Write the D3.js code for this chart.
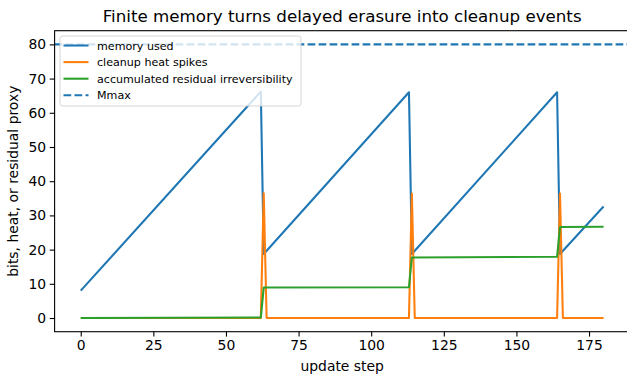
<!DOCTYPE html>
<html>
<head>
<meta charset="utf-8">
<script src="https://cdn.jsdelivr.net/npm/d3@7"></script>
<style>
  html, body { margin: 0; padding: 0; background: #fff; }
  svg { display: block; font-family: "DejaVu Sans", sans-serif; }
</style>
</head>
<body>
<svg id="chart" width="627" height="376"></svg>
<script>
// Memory used: sawtooth vertices (step, bits)
const memorySteps = [0, 62, 63, 113, 114, 164, 165, 180];
const memoryBits  = [8.0, 66.2, 18.7, 66.0, 18.7, 66.0, 18.7, 32.6];

// Cleanup heat spikes (step, heat)
const heatSteps = [0, 62, 63, 64, 113, 114, 115, 164, 165, 166, 180];
const heatValues = [0, 0, 36.5, 0, 0, 36.4, 0, 0, 36.4, 0, 0];

// Accumulated residual irreversibility (step, residual)
const residualSteps = [0, 62, 63, 113, 114, 164, 165, 180];
const residualValues = [0, 0.15, 8.9, 9.0, 17.7, 17.9, 26.6, 26.7];

// Memory capacity
const Mmax = 80;

const xTicks = [0, 25, 50, 75, 100, 125, 150, 175];
const yTicks = [0, 10, 20, 30, 40, 50, 60, 70, 80];

const legendLabels = ["memory used", "cleanup heat spikes", "accumulated residual irreversibility", "Mmax"];

const C = { blue: "#1f77b4", orange: "#ff7f0e", green: "#2ca02c" };

const svg = d3.select("#chart");
const plot = { left: 54.6, right: 629.7, top: 30.7, bottom: 331.7 };

const x = d3.scaleLinear().domain([-9, 189]).range([plot.left, plot.right]);
const y = d3.scaleLinear().domain([-4, 84]).range([plot.bottom, plot.top]);

const pts = (xs, ys) => xs.map((s, i) => [s, ys[i]]);
const line = d3.line().x(d => x(d[0])).y(d => y(d[1]));

svg.append("defs").append("clipPath").attr("id", "plotclip")
  .append("rect").attr("x", plot.left).attr("y", plot.top)
  .attr("width", plot.right - plot.left).attr("height", plot.bottom - plot.top);

const g = svg.append("g").attr("clip-path", "url(#plotclip)");
const lw = 2.08;

g.append("path").datum(pts(memorySteps, memoryBits))
  .attr("d", line).attr("fill", "none").attr("stroke", C.blue)
  .attr("stroke-width", lw).attr("stroke-linejoin", "round");
g.append("path").datum(pts(heatSteps, heatValues))
  .attr("d", line).attr("fill", "none").attr("stroke", C.orange)
  .attr("stroke-width", lw).attr("stroke-linejoin", "round");
g.append("path").datum(pts(residualSteps, residualValues))
  .attr("d", line).attr("fill", "none").attr("stroke", C.green)
  .attr("stroke-width", lw).attr("stroke-linejoin", "round");
g.append("line")
  .attr("x1", plot.left).attr("x2", plot.right)
  .attr("y1", y(Mmax)).attr("y2", y(Mmax))
  .attr("stroke", C.blue).attr("stroke-width", lw)
  .attr("stroke-dasharray", "7.7,3.3");

// Axes
const xAxis = d3.axisBottom(x).tickValues(xTicks).tickSize(4.9).tickPadding(3.5);
const yAxis = d3.axisLeft(y).tickValues(yTicks).tickSize(4.9).tickPadding(3.5);

const gx = svg.append("g").attr("transform", `translate(0,${plot.bottom})`).call(xAxis);
const gy = svg.append("g").attr("transform", `translate(${plot.left},0)`).call(yAxis);
[gx, gy].forEach(a => {
  a.select(".domain").remove();
  a.selectAll(".tick line").attr("stroke", "#000").attr("stroke-width", 1.1);
  a.selectAll(".tick text").attr("fill", "#000").attr("font-size", 13.9)
    .attr("font-family", "DejaVu Sans");
});

// Spines
svg.append("rect")
  .attr("x", plot.left).attr("y", plot.top)
  .attr("width", plot.right - plot.left).attr("height", plot.bottom - plot.top)
  .attr("fill", "none").attr("stroke", "#000").attr("stroke-width", 1.1);

// Labels
svg.append("text").attr("x", (plot.left + plot.right) / 2).attr("y", 371)
  .attr("text-anchor", "middle").attr("font-size", 13.9).text("update step");
svg.append("text")
  .attr("transform", `translate(18,${(plot.top + plot.bottom) / 2}) rotate(-90)`)
  .attr("text-anchor", "middle").attr("font-size", 13.9)
  .text("bits, heat, or residual proxy");
svg.append("text").attr("x", (plot.left + plot.right) / 2).attr("y", 22.4)
  .attr("text-anchor", "middle").attr("font-size", 16.7)
  .text("Finite memory turns delayed erasure into cleanup events");

// Legend
const leg = svg.append("g");
leg.append("rect").attr("x", 60).attr("y", 36).attr("width", 241).attr("height", 70)
  .attr("rx", 2.5).attr("fill", "#fff").attr("fill-opacity", 0.8)
  .attr("stroke", "#cccccc").attr("stroke-opacity", 0.8).attr("stroke-width", 1);
const legStyles = [
  { c: C.blue, dash: null },
  { c: C.orange, dash: null },
  { c: C.green, dash: null },
  { c: C.blue, dash: "7.7,3.3" }
];
legendLabels.forEach((lab, i) => {
  const cy = 45.5 + i * 16.6;
  leg.append("line").attr("x1", 63.5).attr("x2", 88.5).attr("y1", cy).attr("y2", cy)
    .attr("stroke", legStyles[i].c).attr("stroke-width", lw)
    .attr("stroke-dasharray", legStyles[i].dash);
  leg.append("text").attr("x", 97).attr("y", cy + 4).attr("font-size", 11.1).text(lab);
});
</script>
</body>
</html>
